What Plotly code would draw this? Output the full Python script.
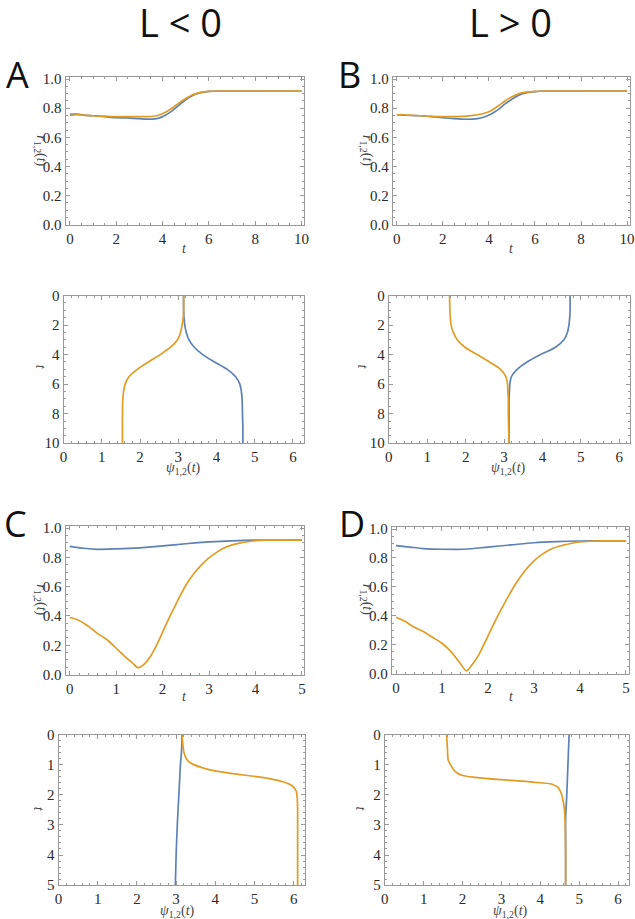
import plotly.graph_objects as go
import math

# mapping from reference pixel positions to figure pixels (calibrated)
S = 0.985
CX, CY = 3.5, 6.8
W, H = 640, 925
BLUE = "#5E81B5"
ORANGE = "#E19C24"

# ---------------- data ----------------
tA = [0, 0.3, 0.6, 1, 1.5, 2, 2.5, 3, 3.5, 3.8, 4.1, 4.4, 4.7, 5, 5.3, 5.6, 6, 6.5, 7, 8, 9, 10]
rA_blue = [0.758, 0.76, 0.752, 0.748, 0.742, 0.735, 0.733, 0.728, 0.725, 0.73, 0.75, 0.78, 0.82, 0.858, 0.887, 0.905, 0.915, 0.918, 0.918, 0.918, 0.917, 0.917]
rA_orange = [0.75, 0.755, 0.752, 0.748, 0.745, 0.742, 0.742, 0.742, 0.743, 0.75, 0.77, 0.80, 0.835, 0.866, 0.892, 0.907, 0.915, 0.918, 0.918, 0.918, 0.917, 0.917]

tB = [0, 0.3, 0.6, 1, 1.5, 2, 2.5, 3, 3.5, 3.8, 4.1, 4.4, 4.7, 5, 5.3, 5.6, 6, 6.5, 7, 8, 9, 10]
rB_blue = [0.755, 0.753, 0.75, 0.748, 0.742, 0.735, 0.728, 0.724, 0.728, 0.74, 0.76, 0.79, 0.83, 0.862, 0.89, 0.905, 0.914, 0.918, 0.918, 0.918, 0.917, 0.917]
rB_orange = [0.755, 0.755, 0.752, 0.748, 0.744, 0.742, 0.742, 0.745, 0.755, 0.765, 0.785, 0.815, 0.85, 0.878, 0.9, 0.91, 0.916, 0.918, 0.918, 0.918, 0.917, 0.917]

tA2 = [0, 1, 1.5, 2, 2.5, 3, 3.5, 4, 4.5, 5, 5.5, 6, 6.5, 7, 8, 9, 10]
psiA_blue = [3.14, 3.14, 3.15, 3.17, 3.21, 3.28, 3.42, 3.64, 3.95, 4.28, 4.5, 4.61, 4.65, 4.67, 4.68, 4.69, 4.69]
psiA_orange = [3.14, 3.14, 3.13, 3.10, 3.06, 2.98, 2.80, 2.53, 2.22, 1.93, 1.71, 1.61, 1.57, 1.55, 1.54, 1.54, 1.54]

tB2 = [0, 1, 1.5, 2, 2.5, 3, 3.5, 4, 4.5, 5, 5.5, 6, 6.5, 7, 8, 9, 10]
psiB_blue = [4.72, 4.72, 4.71, 4.69, 4.65, 4.56, 4.34, 3.95, 3.6, 3.34, 3.19, 3.15, 3.14, 3.13, 3.13, 3.13, 3.13]
psiB_orange = [1.58, 1.59, 1.60, 1.62, 1.68, 1.78, 1.98, 2.30, 2.62, 2.91, 3.05, 3.09, 3.10, 3.11, 3.11, 3.12, 3.13]

tC_orange = [0, 0.2, 0.4, 0.6, 0.8, 1.0, 1.2, 1.35, 1.47, 1.6, 1.75, 1.9, 2.1, 2.3, 2.5, 2.7, 2.9, 3.1, 3.3, 3.5, 3.7, 3.9, 4.2, 4.5, 5]
rC_orange = [0.39, 0.37, 0.33, 0.28, 0.24, 0.18, 0.12, 0.08, 0.048, 0.07, 0.13, 0.22, 0.36, 0.49, 0.61, 0.7, 0.77, 0.82, 0.86, 0.885, 0.9, 0.91, 0.917, 0.918, 0.918]
tC_blue = [0, 0.3, 0.6, 1, 1.5, 2, 2.5, 3, 3.5, 4, 4.5, 5]
rC_blue = [0.875, 0.862, 0.855, 0.858, 0.865, 0.878, 0.893, 0.905, 0.913, 0.917, 0.918, 0.918]

tD_orange = [0, 0.2, 0.4, 0.6, 0.8, 1.0, 1.2, 1.4, 1.53, 1.65, 1.8, 2.0, 2.2, 2.4, 2.6, 2.8, 3.0, 3.2, 3.4, 3.6, 3.8, 4.0, 4.3, 4.6, 5]
rD_orange = [0.39, 0.36, 0.32, 0.29, 0.25, 0.21, 0.15, 0.07, 0.02, 0.06, 0.13, 0.26, 0.39, 0.51, 0.62, 0.71, 0.78, 0.83, 0.865, 0.885, 0.9, 0.91, 0.917, 0.918, 0.918]
tD_blue = [0, 0.3, 0.6, 1, 1.5, 2, 2.5, 3, 3.5, 4, 4.5, 5]
rD_blue = [0.885, 0.875, 0.865, 0.86, 0.86, 0.875, 0.89, 0.905, 0.913, 0.917, 0.918, 0.918]

tC2_blue = [0, 0.5, 1, 1.5, 2, 3, 4, 5]
psiC_blue = [3.15, 3.14, 3.11, 3.09, 3.07, 3.03, 3.0, 2.98]
tC2_orange = [0, 0.3, 0.6, 0.8, 0.9, 1.0, 1.1, 1.2, 1.3, 1.4, 1.5, 1.6, 1.7, 1.8, 1.9, 2.1, 2.5, 3, 4, 5]
psiC_orange = [3.15, 3.17, 3.2, 3.26, 3.32, 3.45, 3.66, 3.95, 4.45, 5.05, 5.5, 5.8, 5.96, 6.03, 6.07, 6.09, 6.1, 6.1, 6.1, 6.1]

tD2_blue = [0, 1, 2, 2.8, 3.5, 5]
psiD_blue = [4.74, 4.71, 4.68, 4.65, 4.65, 4.65]
tD2_orange = [0, 0.5, 0.85, 1.0, 1.15, 1.28, 1.36, 1.42, 1.5, 1.58, 1.65, 1.75, 1.9, 2.1, 2.5, 3, 4, 5]
psiD_orange = [1.59, 1.61, 1.63, 1.69, 1.76, 1.86, 2.0, 2.3, 3.0, 3.8, 4.3, 4.45, 4.52, 4.57, 4.62, 4.64, 4.65, 4.65]

col_titles = ["L < 0", "L > 0"]
panel_letters = ["A", "B", "C", "D"]

def clamp(v):
    return max(0.0, min(1.0, v))

def px(x):
    return ((x - CX) / S) / W

def py(y):
    return 1 - ((y - CY) / S) / H

SERIF = "Liberation Serif"
SANS = "Open Sans"
TICKFONT = dict(family=SERIF, size=15, color="#2a2a2a")
FRAME = "#999999"

fig = go.Figure()
layout = {}

# frame box in page pixels, kind, x range, y range, major step, minor step
panels = [
    ((65, 76, 303, 224), "r", [-0.19, 10.1], [0, 1.014], 2, 0.5),
    ((392, 76, 629, 224), "r", [-0.17, 10.13], [0, 1.014], 2, 0.5),
    ((63, 295, 303, 443), "psi", [0, 2 * math.pi], [10, 0], 2, 0.5),
    ((388, 295, 629, 443), "psi", [0, 2 * math.pi], [10, 0], 2, 0.5),
    ((65, 526, 303, 675), "r", [-0.09, 5.04], [0, 1.014], 1, 0.2),
    ((391, 527, 628, 674), "r", [-0.09, 5.07], [0, 1.014], 1, 0.2),
    ((58, 735, 304, 886), "psi", [0, 2 * math.pi], [5, 0], 1, 0.2),
    ((384, 735, 628, 886), "psi", [0, 2 * math.pi], [5, 0], 1, 0.2),
]

def axis_common():
    return dict(
        showline=True, linecolor=FRAME, linewidth=1, mirror="allticks",
        ticks="inside", ticklen=4, tickcolor=FRAME, tickwidth=1,
        showgrid=False, zeroline=False, tickfont=dict(TICKFONT),
        ticklabeloverflow="allow",
    )

for i, (box, kind, xr, yr, tdt, tminor) in enumerate(panels):
    n = "" if i == 0 else str(i + 1)
    x0, y0, x1, y1 = box
    xa = axis_common()
    ya = axis_common()
    xa.update(domain=[clamp(px(x0)), clamp(px(x1))], range=xr, anchor="y" + n)
    ya.update(domain=[clamp(py(y1)), clamp(py(y0))], range=yr, anchor="x" + n)
    if kind == "r":
        xa.update(tickmode="linear", tick0=0, dtick=tdt,
                  minor=dict(dtick=tminor, ticks="inside", ticklen=2, tickcolor=FRAME))
        ya.update(tickmode="linear", tick0=0, dtick=0.2, tickformat=".1f",
                  minor=dict(dtick=0.05, ticks="inside", ticklen=2, tickcolor=FRAME))
    else:
        xa.update(tickmode="linear", tick0=0, dtick=1,
                  minor=dict(dtick=0.2, ticks="inside", ticklen=2, tickcolor=FRAME))
        ya.update(tickmode="linear", tick0=0, dtick=tdt,
                  minor=dict(dtick=tminor, ticks="inside", ticklen=2, tickcolor=FRAME))
    layout["xaxis" + n] = xa
    layout["yaxis" + n] = ya

def add(x, y, color, i):
    n = "" if i == 0 else str(i + 1)
    fig.add_trace(go.Scatter(x=x, y=y, mode="lines", xaxis="x" + n, yaxis="y" + n,
                             line=dict(color=color, width=1.7, shape="spline", smoothing=0.8),
                             showlegend=False, hoverinfo="skip"))

add(tA, rA_blue, BLUE, 0); add(tA, rA_orange, ORANGE, 0)
add(tB, rB_blue, BLUE, 1); add(tB, rB_orange, ORANGE, 1)
add(psiA_blue, tA2, BLUE, 2); add(psiA_orange, tA2, ORANGE, 2)
add(psiB_blue, tB2, BLUE, 3); add(psiB_orange, tB2, ORANGE, 3)
add(tC_blue, rC_blue, BLUE, 4); add(tC_orange, rC_orange, ORANGE, 4)
add(tD_blue, rD_blue, BLUE, 5); add(tD_orange, rD_orange, ORANGE, 5)
add(psiC_blue, tC2_blue, BLUE, 6); add(psiC_orange, tC2_orange, ORANGE, 6)
add(psiD_blue, tD2_blue, BLUE, 7); add(psiD_orange, tD2_orange, ORANGE, 7)

ann = []

def text(x, y, s, size, family, angle=0, color="#222"):
    ann.append(dict(x=px(x), y=py(y), xref="paper", yref="paper", text=s, showarrow=False,
                    xanchor="center", yanchor="middle", textangle=angle,
                    font=dict(family=family, size=size, color=color)))

text(180, 21, col_titles[0], 38, SANS, color="#111")
text(510, 21, col_titles[1], 38, SANS, color="#111")
text(17, 73, panel_letters[0], 36, SANS, color="#111")
text(349, 73, panel_letters[1], 36, SANS, color="#111")
text(15, 524, panel_letters[2], 36, SANS, color="#111")
text(351, 524, panel_letters[3], 36, SANS, color="#111")

r_lab = "<i>r</i><sub>1,2</sub>(<i>t</i>)"
psi_lab = "<i>ψ</i><sub>1,2</sub>(<i>t</i>)"
text(40, 150, r_lab, 14, SERIF, angle=90, color="#444")
text(365, 150, r_lab, 14, SERIF, angle=90, color="#444")
text(184, 248, "<i>t</i>", 14, SERIF, color="#444")
text(511, 248, "<i>t</i>", 14, SERIF, color="#444")
text(40, 367, "<i>t</i>", 14, SERIF, angle=90, color="#444")
text(362, 367, "<i>t</i>", 14, SERIF, angle=90, color="#444")
text(183, 468, psi_lab, 14, SERIF, color="#444")
text(508, 468, psi_lab, 14, SERIF, color="#444")
text(40, 600, r_lab, 14, SERIF, angle=90, color="#444")
text(365, 600, r_lab, 14, SERIF, angle=90, color="#444")
text(184, 697, "<i>t</i>", 14, SERIF, color="#444")
text(511, 697, "<i>t</i>", 14, SERIF, color="#444")
text(38, 810, "<i>t</i>", 14, SERIF, angle=90, color="#444")
text(360, 810, "<i>t</i>", 14, SERIF, angle=90, color="#444")
text(177, 912, psi_lab, 14, SERIF, color="#444")
text(510, 912, psi_lab, 14, SERIF, color="#444")

layout.update(width=W, height=H, margin=dict(l=0, r=0, t=0, b=0),
              paper_bgcolor="white", plot_bgcolor="white", annotations=ann,
              showlegend=False,
              font=dict(family=SERIF, size=14, color="#333"))
fig.update_layout(**layout)
fig.update_xaxes(tickfont=dict(TICKFONT))
fig.update_yaxes(tickfont=dict(TICKFONT))
fig.write_html("out.html", config={"displayModeBar": False},
               post_script="document.body.style.margin='0px';")
